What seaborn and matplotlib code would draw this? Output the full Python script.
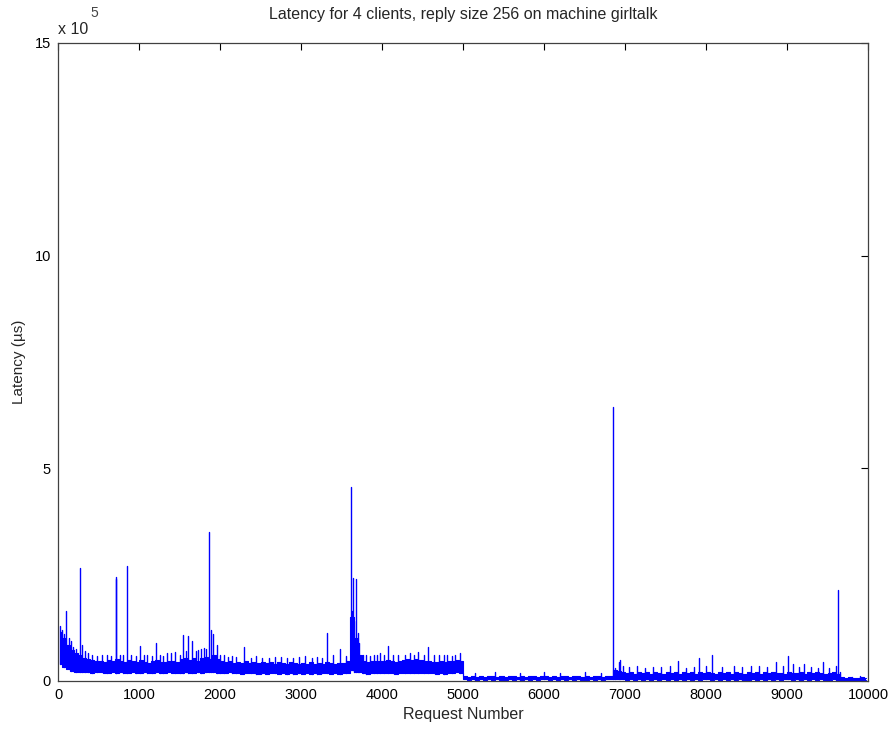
import numpy as np
import pandas as pd
import matplotlib
matplotlib.use("Agg")
import matplotlib.pyplot as plt
import seaborn as sns

# ---- data (latency in thousands of microseconds) ----
bin_size = 50  # requests per band bin

# typical top of the dense noise band, per 50-request bin
band_hi_k = [
    115, 100, 85, 72, 65, 60, 55, 52, 50, 48,
    47, 45, 50, 46, 52, 47, 45, 50, 46, 44,
    49, 45, 43, 47, 50, 45, 44, 48, 47, 45,
    52, 54, 50, 53, 48, 55, 56, 52, 60, 52,
    46, 44, 47, 43, 45, 42, 47, 43, 44, 42,
    45, 42, 44, 41, 45, 42, 41, 44, 42, 40,
    43, 41, 44, 40, 42, 41, 45, 42, 40, 43,
    43, 46, 150, 100, 60, 47, 44, 46, 47, 48,
    46, 49, 46, 45, 48, 49, 52, 50, 52, 49,
    47, 48, 45, 44, 46, 45, 47, 48, 50, 46,
    11, 10, 12, 10, 11, 9, 12, 11, 10, 12,
    10, 11, 12, 10, 11, 10, 12, 11, 10, 11,
    12, 10, 11, 10, 12, 11, 10, 11, 12, 10,
    11, 10, 12, 11, 10, 11, 12, 26, 24, 21,
    19, 21, 17, 20, 18, 21, 17, 20, 18, 17,
    20, 18, 21, 17, 20, 18, 21, 17, 20, 18,
    21, 18, 17, 20, 18, 21, 17, 20, 18, 17,
    20, 18, 21, 17, 20, 18, 21, 19, 18, 17,
    21, 19, 18, 21, 17, 20, 18, 21, 19, 17,
    18, 20, 17, 9, 8, 9, 7, 8, 9, 8,
]
# bottom of the band, per 50-request bin
band_lo_k = (
    [40, 33, 28, 24, 22, 21, 20, 20, 19, 20]
    + [20, 19, 18, 20, 19, 20, 18, 19, 20, 19]
    + [19, 20, 18, 19, 20, 19, 18, 20, 19, 18]
    + [19, 20, 19, 18, 20, 19, 20, 21, 20, 19]
    + [18, 19, 20, 18, 19, 17, 18, 19, 18, 17]
    + [18, 17, 19, 18, 17, 18, 17, 18, 17, 18]
    + [17, 18, 17, 18, 17, 18, 19, 17, 18, 17]
    + [18, 19, 25, 22, 20, 18, 17, 18, 19, 18]
    + [18, 19, 18, 17, 18, 19, 18, 19, 18, 19]
    + [18, 19, 18, 17, 18, 17, 18, 19, 20, 19]
    + [4, 3, 4, 3, 4, 3, 4, 3, 4, 3]
    + [3, 4, 3, 4, 3, 4, 3, 4, 3, 4]
    + [4, 3, 4, 3, 4, 3, 4, 3, 4, 3]
    + [3, 4, 3, 4, 3, 4, 4, 5, 4, 4]
    + [3, 4, 3, 4, 3, 4, 3, 4, 3, 4]
    + [3, 4, 3, 4, 3, 4, 3, 4, 3, 4]
    + [4, 3, 4, 3, 4, 3, 4, 3, 4, 3]
    + [3, 4, 3, 4, 3, 4, 3, 4, 3, 4]
    + [4, 3, 4, 3, 4, 3, 4, 3, 4, 3]
    + [3, 4, 3, 3, 3, 2, 3, 2, 3, 2]
)

# individual spikes: request number and peak latency (thousands of microseconds)
spike_x = [20, 45, 70, 95, 130, 160, 190, 220, 272, 300, 330, 370, 420, 480, 540,
           600, 650, 716, 722, 760, 800, 852, 900, 960, 1012, 1060, 1100, 1160,
           1210, 1260, 1300, 1350, 1390, 1450, 1500, 1543, 1580, 1605, 1650, 1700,
           1730, 1760, 1800, 1830, 1864, 1890, 1910, 1960, 2000, 2050, 2100, 2150,
           2200, 2300, 2380, 2450, 2520, 2600, 2680, 2750, 2830, 2900, 2980, 3050,
           3130, 3200, 3260, 3320, 3400, 3480, 3550, 3617, 3630, 3640, 3655, 3680,
           3704, 3720, 3760, 3800, 3850, 3900, 3940, 3980, 4030, 4075, 4130, 4200,
           4280, 4350, 4400, 4450, 4520, 4570, 4640, 4700, 4760, 4800, 4860, 4900,
           4960,
           5150, 5400, 5700, 6000, 6200, 6500, 6700, 6848, 6880, 6920, 6940, 6980,
           7050, 7150, 7250, 7350, 7450, 7550, 7654, 7750, 7850, 7914, 8000, 8074,
           8200, 8350, 8450, 8550, 8650, 8750, 8864, 8950, 9012, 9070, 9150, 9210,
           9300, 9380, 9444, 9520, 9600, 9630, 9660, 9800, 9900]
spike_h_k = [130, 120, 110, 165, 100, 95, 80, 75, 265, 85, 70, 65, 60, 58, 62,
             62, 58, 245, 240, 60, 62, 270, 60, 58, 82, 60, 60, 58,
             90, 62, 58, 65, 65, 68, 62, 108, 70, 105, 95, 70,
             72, 75, 78, 75, 350, 120, 110, 85, 62, 60, 57, 58,
             56, 80, 55, 58, 54, 55, 56, 57, 54, 55, 56, 58,
             55, 57, 54, 112, 60, 75, 58, 455, 165, 242, 140, 240,
             112, 90, 60, 60, 58, 62, 60, 65, 62, 82, 60, 60,
             62, 65, 62, 68, 60, 80, 62, 62, 60, 60, 58, 62,
             65,
             18, 20, 18, 20, 18, 20, 18, 645, 30, 45, 50, 35,
             32, 35, 30, 33, 32, 35, 47, 30, 33, 53, 35, 60,
             32, 35, 33, 36, 35, 33, 45, 35, 58, 40, 33, 40,
             32, 30, 45, 30, 35, 214, 20, 10, 12]

x_ticks = [0, 1000, 2000, 3000, 4000, 5000, 6000, 7000, 8000, 9000, 10000]
y_ticks = [0, 5, 10, 15]
title = "Latency for 4 clients, reply size 256 on machine girltalk"

SCALE = 1e3 / 1e5  # thousands of us -> units of 10^5 us

# band table
n_bins = len(band_hi_k)
band = pd.DataFrame({
    "Request": [i * bin_size + bin_size / 2 for i in range(n_bins)],
    "hi": [v * SCALE for v in band_hi_k],
    "lo": [v * SCALE for v in band_lo_k],
})

# spike table: each spike is its own 2-point vertical line
rows = []
for k, (sx, sh) in enumerate(zip(spike_x, spike_h_k)):
    base = band_lo_k[min(int(sx // bin_size), n_bins - 1)] * SCALE
    rows.append({"id": k, "Request": sx, "Latency": base})
    rows.append({"id": k, "Request": sx, "Latency": sh * SCALE})
spikes = pd.DataFrame(rows)

sns.set_style("white")
plt.rcParams["font.family"] = ["Liberation Sans", "DejaVu Sans"]

BLUE = "#0000ff"
fig = plt.figure(figsize=(8.91, 7.31), dpi=100)
ax = fig.add_axes([0.0651, 0.0684, 0.9091, 0.8728])

ax.fill_between(band["Request"], band["lo"], band["hi"], step="mid",
                color=BLUE, linewidth=0)
sns.lineplot(data=band, x="Request", y="hi", color=BLUE, linewidth=0.8,
             drawstyle="steps-mid", estimator=None, ax=ax)
sns.lineplot(data=band, x="Request", y="lo", color=BLUE, linewidth=0.8,
             drawstyle="steps-mid", estimator=None, ax=ax)
sns.lineplot(data=spikes, x="Request", y="Latency", units="id", color=BLUE,
             linewidth=1.0, estimator=None, ax=ax)

ax.set_xlim(0, 10000)
ax.set_ylim(0, 15)
ax.set_xticks(x_ticks)
ax.set_xticklabels([str(t) for t in x_ticks])
ax.set_yticks(y_ticks)
ax.set_yticklabels([str(t) for t in y_ticks])
ax.tick_params(direction="in", length=5, width=0.8, top=True, right=True,
               labelsize=10.5, colors="black", pad=5)
for s in ax.spines.values():
    s.set_visible(True)
    s.set_color("#404040")
    s.set_linewidth(0.9)

ax.set_title(title, fontsize=11.5, pad=17)
ax.set_xlabel("Request Number", fontsize=11.5, labelpad=4)
ax.set_ylabel("Latency (\u00b5s)", fontsize=11, labelpad=6)

fig.text(58 / 891, 1 - 29 / 731, "x 10", fontsize=11.5, ha="left", va="center")
fig.text(90 / 891, 1 - 13 / 731, "5", fontsize=10, ha="left", va="center", color="#444444")

fig.savefig("out.png", dpi=100)
